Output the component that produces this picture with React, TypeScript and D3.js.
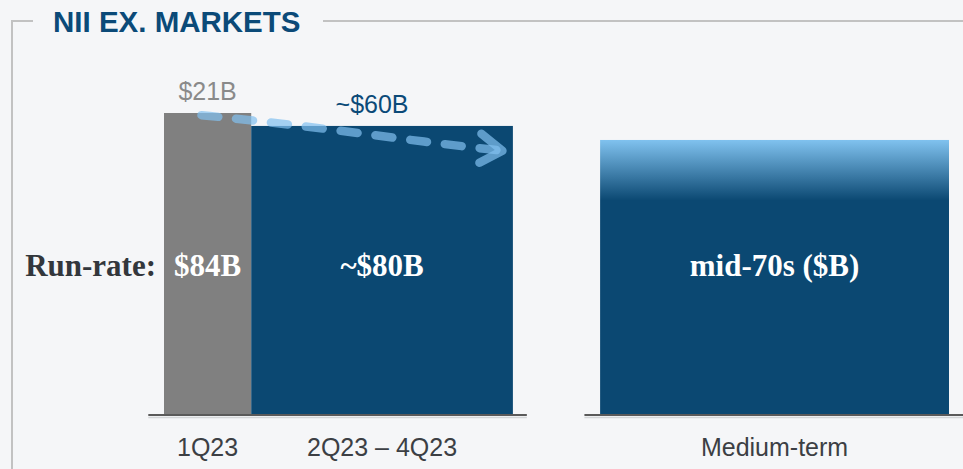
import React, { useRef, useEffect } from "react";
import * as d3 from "d3";

// periods, measured in quarters from the start of 1Q23
const categories = ["1Q23", "2Q23 – 4Q23", "Medium-term"];
const startQuarter = [0, 1, 5];
const spanQuarters = [1, 3, 4];
// annualised run-rate, $B
const runRate = [84, 80.4, 76.5];
const runRateLabels = ["$84B", "~$80B", "mid-70s ($B)"];
// period totals shown above the bars
const periodLabels = ["$21B", "~$60B"];

const W = 963;
const H = 469;

const App = () => {
  const ref = useRef<SVGSVGElement>(null);

  useEffect(() => {
    const svg = d3.select(ref.current);
    svg.selectAll("*").remove();

    const bg = "#f5f6f8";
    const navy = "#0b4872";
    const grey = "#808080";
    const sans = "Liberation Sans, Arial, sans-serif";
    const serif = "Liberation Serif, Times New Roman, serif";

    const x = d3.scaleLinear().domain([0, 9]).range([164, 949]);
    const y = d3.scaleLinear().domain([0, 84]).range([415, 113]);

    svg.append("rect").attr("width", W).attr("height", H).attr("fill", bg);

    // frame with a gap for the title
    const frame = svg.append("g").attr("stroke", "#c2c2c2").attr("stroke-width", 2).attr("fill", "none");
    frame.append("path").attr("d", `M33,21 H12 V${H}`);
    frame.append("path").attr("d", `M323,21 H${W}`);

    svg.append("text")
      .attr("x", 53).attr("y", 32)
      .attr("font-family", sans).attr("font-weight", "bold").attr("font-size", 29.5)
      .attr("fill", "#0b4a78")
      .text("NII EX. MARKETS");

    // light-blue fade at the top of the medium-term bar
    const grad = svg.append("defs").append("linearGradient")
      .attr("id", "fade").attr("x1", 0).attr("x2", 0).attr("y1", 0).attr("y2", 1);
    grad.append("stop").attr("offset", 0).attr("stop-color", "#80c2ef");
    grad.append("stop").attr("offset", 0.22).attr("stop-color", navy);
    grad.append("stop").attr("offset", 1).attr("stop-color", navy);

    const fills = [grey, navy, "url(#fade)"];

    svg.append("g").selectAll("rect")
      .data(categories)
      .join("rect")
      .attr("x", (d, i) => x(startQuarter[i]))
      .attr("width", (d, i) => x(startQuarter[i] + spanQuarters[i]) - x(startQuarter[i]))
      .attr("y", (d, i) => y(runRate[i]))
      .attr("height", (d, i) => y(0) - y(runRate[i]))
      .attr("fill", (d, i) => fills[i]);

    // baselines
    const base = svg.append("g");
    [[x(-0.18), x(4.16)], [x(4.82), W]].forEach(([a, b]) => {
      base.append("line").attr("x1", a).attr("x2", b).attr("y1", y(0) + 2.5).attr("y2", y(0) + 2.5)
        .attr("stroke", "#d4d6d8").attr("stroke-width", 1.5);
      base.append("line").attr("x1", a).attr("x2", b).attr("y1", y(0)).attr("y2", y(0))
        .attr("stroke", "#5a5a5a").attr("stroke-width", 2.2);
    });

    // category labels
    svg.append("g").selectAll("text")
      .data(categories)
      .join("text")
      .attr("x", (d, i) => x(startQuarter[i] + spanQuarters[i] / 2))
      .attr("y", 456)
      .attr("text-anchor", "middle")
      .attr("font-family", sans).attr("font-size", 25)
      .attr("fill", "#3c3f44")
      .text(d => d);

    // run-rate labels
    svg.append("text")
      .attr("x", 156).attr("y", 276)
      .attr("text-anchor", "end")
      .attr("font-family", serif).attr("font-weight", "bold").attr("font-size", 31)
      .attr("fill", "#33373c")
      .text("Run-rate:");

    svg.append("g").selectAll("text")
      .data(runRateLabels)
      .join("text")
      .attr("x", (d, i) => x(startQuarter[i] + spanQuarters[i] / 2))
      .attr("y", 276)
      .attr("text-anchor", "middle")
      .attr("font-family", serif).attr("font-weight", "bold").attr("font-size", 31)
      .attr("fill", "#ffffff")
      .text(d => d);

    // period totals
    const periodColors = ["#8a8a8a", "#0b4a78"];
    const periodY = [100, 113];
    svg.append("g").selectAll("text")
      .data(periodLabels)
      .join("text")
      .attr("x", (d, i) => x(startQuarter[i] + spanQuarters[i] / 2) + (i === 1 ? -10 : 0))
      .attr("y", (d, i) => periodY[i])
      .attr("text-anchor", "middle")
      .attr("font-family", sans).attr("font-size", 25)
      .attr("fill", (d, i) => periodColors[i])
      .text(d => d);

    // dashed arrow from 1Q23 toward the rest of the year
    const arrowPts: [number, number][] = [
      [0.43, 83.4], [1.0, 82.0], [2.0, 79.2], [3.0, 75.9], [3.88, 73.5],
    ];
    const line = d3.line<[number, number]>()
      .x(d => x(d[0])).y(d => y(d[1]))
      .curve(d3.curveBasis);
    const arrow = svg.append("g")
      .attr("fill", "none")
      .attr("stroke", "rgb(129,193,239)")
      .attr("stroke-opacity", 0.7)
      .attr("stroke-width", 8.5)
      .attr("stroke-linecap", "round")
      .attr("stroke-linejoin", "round");
    arrow.append("path")
      .attr("d", line(arrowPts))
      .attr("stroke-dasharray", "17 18");
    const tip = arrowPts[arrowPts.length - 1];
    const tx = x(tip[0]), ty = y(tip[1]);
    arrow.append("path")
      .attr("d", `M${tx - 21},${ty - 17} L${tx},${ty} L${tx - 23},${ty + 12}`);
  }, []);

  return (
    <svg
      ref={ref}
      width={W}
      height={H}
      style={{ position: "absolute", left: 0, top: 0 }}
    />
  );
};

export default App;
